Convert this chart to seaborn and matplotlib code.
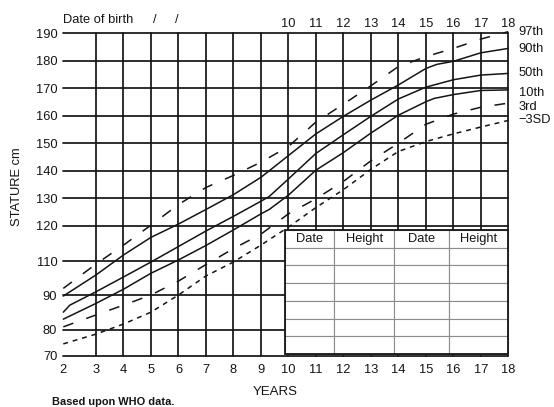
import matplotlib
matplotlib.use("Agg")
import matplotlib.pyplot as plt
from matplotlib.patches import Rectangle
import numpy as np
import pandas as pd
import seaborn as sns

# ---------------- data ----------------
AGE_TICKS = list(range(2, 19))
TOP_AGE_LABELS = list(range(10, 19))
HEIGHT_TICKS = [70, 80, 90, 110, 120, 130, 140, 150, 160, 170, 180, 190]

CURVES = ["97th", "90th", "50th", "10th", "3rd", "\u22123SD"]

age_97 = [2, 3, 4, 5, 6, 7, 8, 9, 10, 11, 12, 13, 14, 15, 16, 17, 18]
h_97 = [93.9, 108.2, 114.5, 120.2, 127.7, 133.9, 138.3, 143.1, 148.8, 157.7,
        164.2, 170.9, 177.9, 181.5, 184.5, 187.9, 190.6]

age_90 = [2, 3, 4, 5, 6, 7, 8, 9, 10, 11, 12, 13, 14, 15, 15.4, 16, 17, 18]
h_90 = [89.7, 101.8, 111.7, 116.7, 120.6, 125.9, 131.3, 137.6, 145.5, 153.4,
        159.8, 165.7, 171.2, 177.2, 178.7, 179.8, 182.9, 184.5]

age_50 = [2, 2.2, 3, 4, 5, 6, 7, 8, 9, 9.3, 10, 11, 12, 13, 14, 15, 16, 17, 18]
h_50 = [85.1, 87.1, 91.9, 100.6, 109.4, 114.1, 118.5, 123.4, 128.9, 130.6,
        137.0, 146.3, 153.1, 159.8, 166.1, 170.4, 173.1, 174.8, 175.4]

age_10 = [2, 3, 4, 5, 6, 7, 8, 9, 9.3, 10, 11, 12, 13, 14, 15, 15.3, 16, 17, 18]
h_10 = [83.1, 87.6, 93.4, 102.8, 110.3, 114.4, 118.8, 124.3, 125.9, 131.1,
        140.2, 146.6, 153.7, 160.2, 165.1, 166.3, 167.7, 169.2, 169.4]

age_3 = [2, 3, 4, 5, 6, 7, 8, 9, 10, 11, 12, 13, 14, 15, 16, 17, 18]
h_3 = [80.9, 84.3, 87.1, 90.0, 98.2, 107.9, 113.5, 117.6, 124.3, 129.8,
       136.1, 143.6, 150.0, 156.9, 160.6, 163.1, 164.6]

age_m3sd = [2, 3, 4, 5, 6, 7, 8, 9, 10, 11, 12, 13, 14, 15, 16, 17, 18]
h_m3sd = [74.6, 78.4, 81.7, 85.1, 90.0, 101.2, 109.4, 114.5, 119.6, 126.6,
          133.1, 140.5, 147.0, 150.6, 153.4, 155.9, 158.3]

TABLE_HEADER = ["Date", "Height", "Date", "Height"]
TABLE_EMPTY_ROWS = 6

# ---------------- style ----------------
sns.set_style("white")
plt.rcParams["font.family"] = ["Liberation Sans", "DejaVu Sans"]
INK = "#151515"
W, H = 554, 407

# the printed grid is not evenly spaced: piecewise-linear axis scales
X_BRK_V = [1, 2, 3, 18, 19]
X_BRK_P = [-27.5, 0.0, 32.7, 445.0, 472.5]
Y_BRK_V = [60, 70, 80, 90, 110, 120, 190, 200]
Y_BRK_P = [-25.7, 0.0, 25.7, 60.7, 94.7, 130.0, 322.4, 349.9]


def fx(v):
    return np.interp(v, X_BRK_V, X_BRK_P)


def fx_inv(p):
    return np.interp(p, X_BRK_P, X_BRK_V)


def fy(v):
    return np.interp(v, Y_BRK_V, Y_BRK_P)


def fy_inv(p):
    return np.interp(p, Y_BRK_P, Y_BRK_V)


fig = plt.figure(figsize=(W / 100, H / 100), dpi=100)
ax = fig.add_axes([63.3 / W, 1 - 355.7 / H, 445 / W, 322.4 / H])
ax.set_xscale("function", functions=(fx, fx_inv))
ax.set_yscale("function", functions=(fy, fy_inv))

ages = [age_97, age_90, age_50, age_10, age_3, age_m3sd]
heights = [h_97, h_90, h_50, h_10, h_3, h_m3sd]
df = pd.concat(
    [pd.DataFrame({"age": a, "height": h, "curve": c})
     for a, h, c in zip(ages, heights, CURVES)],
    ignore_index=True,
)

dashes = {"97th": (7, 9), "90th": "", "50th": "", "10th": "",
          "3rd": (7, 9), "\u22123SD": (3.2, 3.2)}
sns.lineplot(data=df, x="age", y="height", hue="curve", style="curve",
             hue_order=CURVES, style_order=CURVES,
             palette={c: INK for c in CURVES}, dashes=dashes,
             estimator=None, legend=False, linewidth=1.1, zorder=3, ax=ax)
for ln in ax.lines:
    ln.set_clip_on(False)

# grid
for x in AGE_TICKS[1:]:
    ax.axvline(x, color=INK, lw=1.25, zorder=1, clip_on=False)
for y in HEIGHT_TICKS:
    ax.axhline(y, color=INK, lw=1.25, zorder=1, clip_on=False)

ax.set_xlim(2, 18)
ax.set_ylim(70, 190)
ax.set_xticks(AGE_TICKS)
ax.set_xticklabels([str(a) for a in AGE_TICKS])
ax.set_yticks(HEIGHT_TICKS)
ax.set_yticklabels([str(h) for h in HEIGHT_TICKS])
ax.tick_params(axis="both", length=0, labelsize=9.3, colors=INK)
ax.tick_params(axis="x", pad=6.3)
ax.tick_params(axis="y", pad=4.3)
ax.set_xlabel("")
ax.set_ylabel("")
for s in ax.spines.values():
    s.set_visible(False)

for a in TOP_AGE_LABELS:
    ax.annotate(str(a), xy=(a, 1), xycoords=("data", "axes fraction"),
                xytext=(0, 2.7), textcoords="offset points",
                ha="center", va="bottom", fontsize=9.3, color=INK)

# percentile labels on the right
label_baselines = [35, 52.5, 76, 96.5, 109.5, 123]
for txt, yb in zip(CURVES, label_baselines):
    fig.text(518.5 / W, 1 - yb / H, txt, ha="left", va="baseline",
             fontsize=9.3, color=INK)

# record table
col_w = [49, 60, 55, 59]
tb_x0 = (285 - 63.3) / 445
tb_y0 = (355.7 - 354) / 322.4
tb_y1 = (355.7 - 230) / 322.4
cell_text = [TABLE_HEADER] + [[""] * 4 for _ in range(TABLE_EMPTY_ROWS)]
tbl = ax.table(cellText=cell_text, colWidths=[w / sum(col_w) for w in col_w],
               cellLoc="center", bbox=[tb_x0, tb_y0, 1 - tb_x0, tb_y1 - tb_y0])
tbl.set_zorder(5)
tbl.auto_set_font_size(False)
tbl.set_fontsize(9.3)
for (r, c), cell in tbl.get_celld().items():
    cell.set_edgecolor("#8c8c8c")
    cell.set_linewidth(0.8)
    cell.set_facecolor("white")
    cell.get_text().set_color(INK)
ax.add_patch(Rectangle((tb_x0, tb_y0), 1 - tb_x0, tb_y1 - tb_y0,
                       transform=ax.transAxes, fill=False, ec=INK, lw=1.3,
                       zorder=6, clip_on=False))

# titles / annotations
fig.text(63 / W, 1 - 23.3 / H, "Date of birth", ha="left", va="baseline",
         fontsize=9.3, color=INK)
fig.text(155 / W, 1 - 23.3 / H, "/", ha="center", va="baseline", fontsize=9.3, color=INK)
fig.text(177 / W, 1 - 23.3 / H, "/", ha="center", va="baseline", fontsize=9.3, color=INK)
fig.text(17.5 / W, 1 - 187 / H, "STATURE cm", rotation=90, ha="center",
         va="center", fontsize=9.3, color=INK)
fig.text(275.5 / W, 1 - 395 / H, "YEARS", ha="center", va="baseline",
         fontsize=9.5, color=INK)
fig.text(52 / W, 1 - 405 / H, "Based upon WHO data.", ha="left", va="baseline",
         fontsize=7.9, fontweight="bold", color=INK)

fig.savefig("out.png", dpi=100)
